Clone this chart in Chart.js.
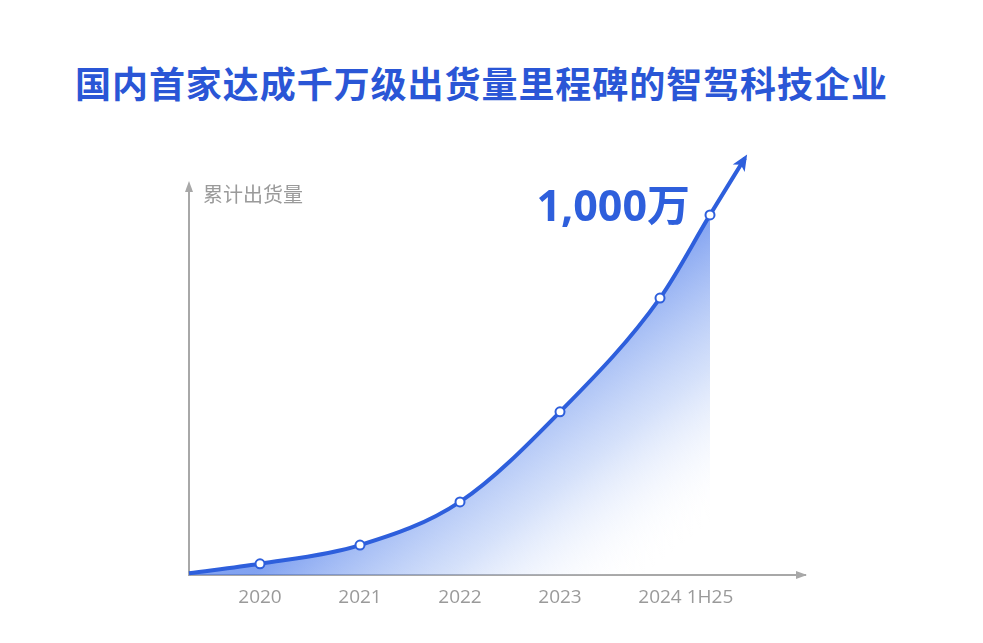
<!DOCTYPE html>
<html>
<head>
<meta charset="utf-8">
<script src="https://cdn.jsdelivr.net/npm/chart.js@4.4.1/dist/chart.umd.min.js"></script>
<style>
  html, body { margin: 0; padding: 0; background: #fff; }
  #wrap { position: relative; width: 983px; height: 643px; }
  h1 {
    position: absolute; left: 75px; top: 59px; margin: 0;
    font-family: "Noto Sans CJK SC", sans-serif; font-weight: 700;
    font-size: 36px; line-height: 46px; color: #2a56d6; letter-spacing: 0.95px;
  }
  canvas { position: absolute; left: 0; top: 0; }
</style>
</head>
<body>
<div id="wrap">
  <h1>国内首家达成千万级出货量里程碑的智驾科技企业</h1>
  <canvas id="chart" width="983" height="643"></canvas>
</div>
<script>
// --- Data (万台, cumulative shipments) ---
const tickValues = [0, 1, 2, 3, 4, 4.5];
const tickLabels = ['2020', '2021', '2022', '2023', '2024', '1H25'];
// curve: start of line, the six milestones, then the arrow tip
const curveX = [-0.71, 0, 1, 2, 3, 4, 4.5, 4.85];
const curveY = [5, 31, 83, 203, 453, 769, 1000, 1158];
const markerRadius = [0, 4.5, 4.5, 4.5, 4.5, 4.5, 4.5, 0];
const yAxisTitle = '累计出货量';
const milestoneLabel = '1,000万';
const milestoneIndex = 6;

const blue = '#2e5fdc';
const axisGray = '#a8a8a8';

// --- Gradient under the curve ---
function areaGradient(context) {
  const chart = context.chart;
  const area = chart.chartArea;
  if (!area) return 'rgba(46,95,220,0.4)';
  const g = chart.ctx.createLinearGradient(area.left + 380, area.top + 140, area.left + 530, area.top + 330);
  g.addColorStop(0, 'rgba(70,118,234,0.68)');
  g.addColorStop(0.5, 'rgba(125,162,240,0.32)');
  g.addColorStop(1, 'rgba(255,255,255,0)');
  return g;
}

// --- Extras: axis arrows, y title, milestone label, line arrow head ---
const extrasPlugin = {
  id: 'extras',
  afterDraw(chart) {
    const ctx = chart.ctx;
    const area = chart.chartArea;
    ctx.save();
    // axis arrow heads
    ctx.fillStyle = axisGray;
    ctx.beginPath();
    ctx.moveTo(area.right + 2, area.bottom);
    ctx.lineTo(area.right - 9, area.bottom - 4);
    ctx.lineTo(area.right - 9, area.bottom + 4);
    ctx.closePath();
    ctx.fill();
    ctx.beginPath();
    ctx.moveTo(area.left, area.top - 4);
    ctx.lineTo(area.left - 4, area.top + 7);
    ctx.lineTo(area.left + 4, area.top + 7);
    ctx.closePath();
    ctx.fill();

    // y axis title
    ctx.fillStyle = '#9a9a9a';
    ctx.font = '20px "Noto Sans CJK SC", sans-serif';
    ctx.textBaseline = 'middle';
    ctx.textAlign = 'left';
    ctx.fillText(yAxisTitle, area.left + 14, area.top + 9);

    // milestone label
    const pts = chart.getDatasetMeta(0).data;
    const p = pts[milestoneIndex];
    ctx.fillStyle = blue;
    ctx.font = 'bold 43px "Open Sans", "Noto Sans CJK SC", sans-serif';
    ctx.textAlign = 'right';
    ctx.textBaseline = 'alphabetic';
    ctx.fillText(milestoneLabel, p.x - 20, p.y + 6);

    // arrow head at the end of the line
    const last = pts[pts.length - 1];
    const prev = pts[pts.length - 2];
    const ang = Math.atan2(last.y - prev.y, last.x - prev.x);
    const len = 16, half = 7;
    ctx.translate(last.x, last.y);
    ctx.rotate(ang);
    ctx.beginPath();
    ctx.moveTo(4, 0);
    ctx.lineTo(-len + 4, -half);
    ctx.lineTo(-len + 8, 0);
    ctx.lineTo(-len + 4, half);
    ctx.closePath();
    ctx.fill();
    ctx.restore();
  }
};

const ctx = document.getElementById('chart').getContext('2d');
new Chart(ctx, {
  type: 'line',
  data: {
    datasets: [{
      data: curveX.map((x, i) => ({ x: x, y: curveY[i] })),
      borderColor: blue,
      borderWidth: 4,
      cubicInterpolationMode: 'monotone',
      fill: 'origin',
      backgroundColor: areaGradient,
      segment: {
        backgroundColor: c => c.p0DataIndex >= milestoneIndex ? 'rgba(0,0,0,0)' : areaGradient(c)
      },
      pointRadius: markerRadius,
      pointHoverRadius: markerRadius,
      pointBackgroundColor: '#ffffff',
      pointBorderColor: blue,
      pointBorderWidth: 2,
      clip: false
    }]
  },
  options: {
    responsive: false,
    animation: false,
    events: [],
    layout: { padding: { left: 189, right: 178, top: 185, bottom: 0 } },
    plugins: { legend: { display: false }, tooltip: { enabled: false } },
    scales: {
      x: {
        type: 'linear',
        min: -0.71,
        max: 5.45,
        afterFit: s => { s.height = 68; },
        afterBuildTicks: s => { s.ticks = tickValues.map(v => ({ value: v })); },
        grid: { display: false, drawTicks: false },
        border: { display: true, color: axisGray, width: 2 },
        ticks: {
          padding: 11,
          color: '#9a9a9a',
          font: { family: '"Open Sans", sans-serif', size: 19 },
          callback: (v) => tickLabels[tickValues.indexOf(v)] ?? ''
        }
      },
      y: {
        min: 0,
        max: 1083,
        afterFit: s => { s.width = 0; },
        grid: { display: false, drawTicks: false },
        border: { display: true, color: axisGray, width: 2 },
        ticks: { display: false }
      }
    }
  },
  plugins: [extrasPlugin]
});
</script>
</body>
</html>
